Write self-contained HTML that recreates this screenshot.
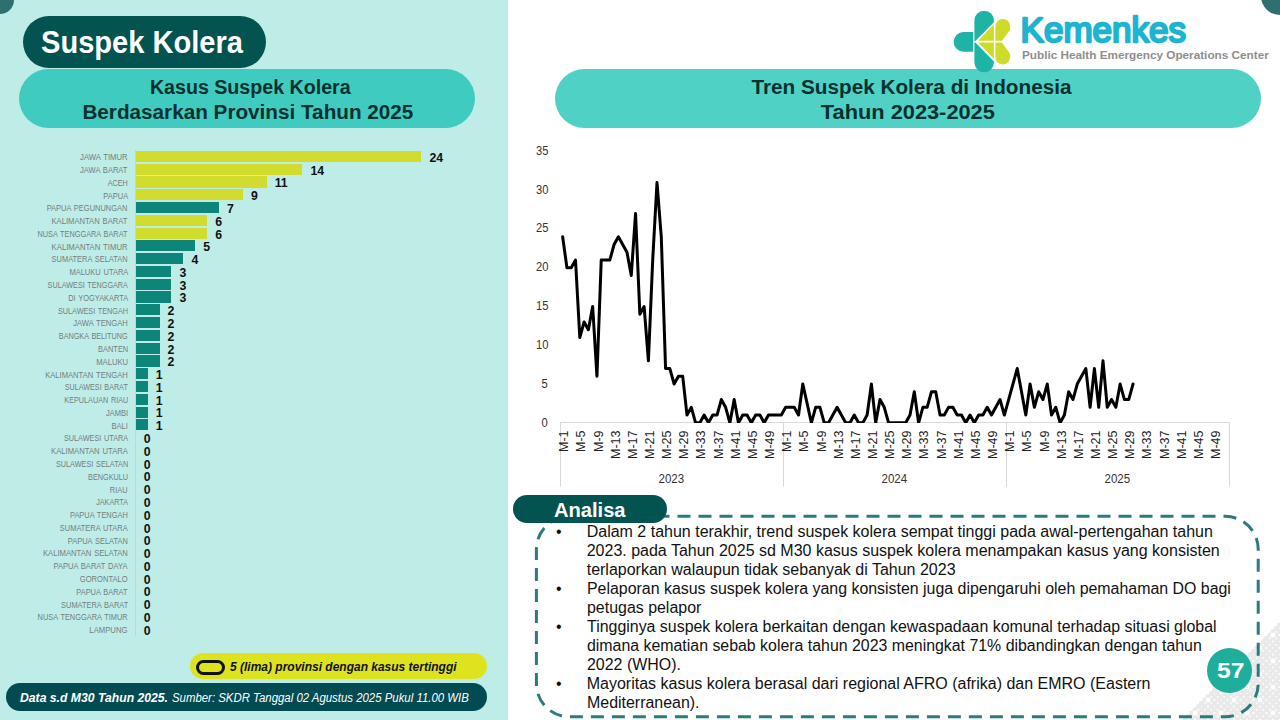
<!DOCTYPE html>
<html lang="id"><head><meta charset="utf-8"><title>Suspek Kolera</title>
<style>
html,body{margin:0;padding:0;}
body{width:1280px;height:720px;position:relative;overflow:hidden;background:#fff;font-family:"Liberation Sans",sans-serif;}
.t{position:absolute;white-space:nowrap;line-height:1;}
.a{position:absolute;}
.pill{position:absolute;border-radius:999px;}
.bar{position:absolute;height:11.2px;}
.y{background:#D2DC2E;} .g{background:#0E857A;}
</style></head><body>
<div class="a" style="left:0;top:0;width:508px;height:720px;background:#BEEDE8;"></div>
<div class="a" style="left:-14px;top:-14px;width:28px;height:28px;border-radius:50%;background:#2F6F70;"></div>
<div class="a" style="left:1261px;top:-23px;width:38px;height:38px;border-radius:50%;background:#2F6F70;"></div>
<div class="pill" style="left:23px;top:16px;width:242.8px;height:51.6px;background:#035350;"></div>
<div class="t" style="left:41.20px;top:27.36px;font-size:31px;color:#fff;font-weight:700;transform:scaleX(0.9379);transform-origin:0 0;">Suspek Kolera</div>
<div class="pill" style="left:19px;top:69px;width:456px;height:59px;background:#3FCBBF;"></div>
<div class="t" style="left:147.73px;top:76.67px;font-size:20px;color:#07302F;font-weight:700;transform:scaleX(0.9813);transform-origin:50% 0;">Kasus Suspek Kolera</div>
<div class="t" style="left:87.92px;top:101.67px;font-size:20px;color:#07302F;font-weight:700;transform:scaleX(1.0351);transform-origin:50% 0;">Berdasarkan Provinsi Tahun 2025</div>
<div class="pill" style="left:555px;top:69px;width:706px;height:59px;background:#4FD1C5;"></div>
<div class="t" style="left:756.51px;top:76.67px;font-size:20px;color:#07302F;font-weight:700;transform:scaleX(1.0357);transform-origin:50% 0;">Tren Suspek Kolera di Indonesia</div>
<div class="t" style="left:828.15px;top:101.67px;font-size:20px;color:#07302F;font-weight:700;transform:scaleX(1.0895);transform-origin:50% 0;">Tahun 2023-2025</div>
<div class="a" style="left:135px;top:150px;width:1px;height:486px;background:#B4DBD7;"></div>
<div class="bar y" style="left:135.8px;top:150.80px;width:285.6px;"></div>
<div class="t" style="left:77.39px;top:154.16px;font-size:8.2px;color:#737D7C;transform:scaleX(0.9386);transform-origin:100% 0;word-spacing:0.8px;">JAWA TIMUR</div>
<div class="t" style="left:429.40px;top:151.79px;font-size:12.3px;color:#111;font-weight:700;">24</div>
<div class="bar y" style="left:135.8px;top:163.58px;width:166.6px;"></div>
<div class="t" style="left:76.47px;top:166.94px;font-size:8.2px;color:#737D7C;transform:scaleX(0.9219);transform-origin:100% 0;word-spacing:0.8px;">JAWA BARAT</div>
<div class="t" style="left:310.40px;top:164.57px;font-size:12.3px;color:#111;font-weight:700;">14</div>
<div class="bar y" style="left:135.8px;top:176.37px;width:130.9px;"></div>
<div class="t" style="left:105.22px;top:179.73px;font-size:8.2px;color:#737D7C;transform:scaleX(0.8823);transform-origin:100% 0;word-spacing:0.8px;">ACEH</div>
<div class="t" style="left:274.70px;top:177.36px;font-size:12.3px;color:#111;font-weight:700;">11</div>
<div class="bar y" style="left:135.8px;top:189.15px;width:107.1px;"></div>
<div class="t" style="left:100.81px;top:192.51px;font-size:8.2px;color:#737D7C;transform:scaleX(0.9158);transform-origin:100% 0;word-spacing:0.8px;">PAPUA</div>
<div class="t" style="left:250.90px;top:190.14px;font-size:12.3px;color:#111;font-weight:700;">9</div>
<div class="bar g" style="left:135.8px;top:201.94px;width:83.3px;"></div>
<div class="t" style="left:39.41px;top:205.30px;font-size:8.2px;color:#737D7C;transform:scaleX(0.9132);transform-origin:100% 0;word-spacing:0.8px;">PAPUA PEGUNUNGAN</div>
<div class="t" style="left:227.10px;top:202.93px;font-size:12.3px;color:#111;font-weight:700;">7</div>
<div class="bar y" style="left:135.8px;top:214.72px;width:71.4px;"></div>
<div class="t" style="left:46.40px;top:218.08px;font-size:8.2px;color:#737D7C;transform:scaleX(0.9326);transform-origin:100% 0;word-spacing:0.8px;">KALIMANTAN BARAT</div>
<div class="t" style="left:215.20px;top:215.71px;font-size:12.3px;color:#111;font-weight:700;">6</div>
<div class="bar y" style="left:135.8px;top:227.51px;width:71.4px;"></div>
<div class="t" style="left:27.37px;top:230.87px;font-size:8.2px;color:#737D7C;transform:scaleX(0.8953);transform-origin:100% 0;word-spacing:0.8px;">NUSA TENGGARA BARAT</div>
<div class="t" style="left:215.20px;top:228.50px;font-size:12.3px;color:#111;font-weight:700;">6</div>
<div class="bar g" style="left:135.8px;top:240.29px;width:59.5px;"></div>
<div class="t" style="left:47.32px;top:243.65px;font-size:8.2px;color:#737D7C;transform:scaleX(0.9432);transform-origin:100% 0;word-spacing:0.8px;">KALIMANTAN TIMUR</div>
<div class="t" style="left:203.30px;top:241.28px;font-size:12.3px;color:#111;font-weight:700;">5</div>
<div class="bar g" style="left:135.8px;top:253.08px;width:47.6px;"></div>
<div class="t" style="left:44.27px;top:256.44px;font-size:8.2px;color:#737D7C;transform:scaleX(0.9089);transform-origin:100% 0;word-spacing:0.8px;">SUMATERA SELATAN</div>
<div class="t" style="left:191.40px;top:254.07px;font-size:12.3px;color:#111;font-weight:700;">4</div>
<div class="bar g" style="left:135.8px;top:265.86px;width:35.7px;"></div>
<div class="t" style="left:63.57px;top:269.22px;font-size:8.2px;color:#737D7C;transform:scaleX(0.9157);transform-origin:100% 0;word-spacing:0.8px;">MALUKU UTARA</div>
<div class="t" style="left:179.50px;top:266.85px;font-size:12.3px;color:#111;font-weight:700;">3</div>
<div class="bar g" style="left:135.8px;top:278.65px;width:35.7px;"></div>
<div class="t" style="left:36.98px;top:282.01px;font-size:8.2px;color:#737D7C;transform:scaleX(0.8833);transform-origin:100% 0;word-spacing:0.8px;">SULAWESI TENGGARA</div>
<div class="t" style="left:179.50px;top:279.64px;font-size:12.3px;color:#111;font-weight:700;">3</div>
<div class="bar g" style="left:135.8px;top:291.44px;width:35.7px;"></div>
<div class="t" style="left:61.73px;top:294.79px;font-size:8.2px;color:#737D7C;transform:scaleX(0.9069);transform-origin:100% 0;word-spacing:0.8px;">DI YOGYAKARTA</div>
<div class="t" style="left:179.50px;top:292.42px;font-size:12.3px;color:#111;font-weight:700;">3</div>
<div class="bar g" style="left:135.8px;top:304.22px;width:23.8px;"></div>
<div class="t" style="left:48.83px;top:307.58px;font-size:8.2px;color:#737D7C;transform:scaleX(0.8867);transform-origin:100% 0;word-spacing:0.8px;">SULAWESI TENGAH</div>
<div class="t" style="left:167.60px;top:305.21px;font-size:12.3px;color:#111;font-weight:700;">2</div>
<div class="bar g" style="left:135.8px;top:317.00px;width:23.8px;"></div>
<div class="t" style="left:69.18px;top:320.36px;font-size:8.2px;color:#737D7C;transform:scaleX(0.9283);transform-origin:100% 0;word-spacing:0.8px;">JAWA TENGAH</div>
<div class="t" style="left:167.60px;top:317.99px;font-size:12.3px;color:#111;font-weight:700;">2</div>
<div class="bar g" style="left:135.8px;top:329.79px;width:23.8px;"></div>
<div class="t" style="left:50.19px;top:333.15px;font-size:8.2px;color:#737D7C;transform:scaleX(0.8868);transform-origin:100% 0;word-spacing:0.8px;">BANGKA BELITUNG</div>
<div class="t" style="left:167.60px;top:330.78px;font-size:12.3px;color:#111;font-weight:700;">2</div>
<div class="bar g" style="left:135.8px;top:342.57px;width:23.8px;"></div>
<div class="t" style="left:94.74px;top:345.93px;font-size:8.2px;color:#737D7C;transform:scaleX(0.9080);transform-origin:100% 0;word-spacing:0.8px;">BANTEN</div>
<div class="t" style="left:167.60px;top:343.56px;font-size:12.3px;color:#111;font-weight:700;">2</div>
<div class="bar g" style="left:135.8px;top:355.36px;width:23.8px;"></div>
<div class="t" style="left:93.83px;top:358.72px;font-size:8.2px;color:#737D7C;transform:scaleX(0.9364);transform-origin:100% 0;word-spacing:0.8px;">MALUKU</div>
<div class="t" style="left:167.60px;top:356.35px;font-size:12.3px;color:#111;font-weight:700;">2</div>
<div class="bar g" style="left:135.8px;top:368.14px;width:11.9px;"></div>
<div class="t" style="left:39.11px;top:371.50px;font-size:8.2px;color:#737D7C;transform:scaleX(0.9304);transform-origin:100% 0;word-spacing:0.8px;">KALIMANTAN TENGAH</div>
<div class="t" style="left:155.70px;top:369.13px;font-size:12.3px;color:#111;font-weight:700;">1</div>
<div class="bar g" style="left:135.8px;top:380.93px;width:11.9px;"></div>
<div class="t" style="left:56.12px;top:384.29px;font-size:8.2px;color:#737D7C;transform:scaleX(0.8778);transform-origin:100% 0;word-spacing:0.8px;">SULAWESI BARAT</div>
<div class="t" style="left:155.70px;top:381.92px;font-size:12.3px;color:#111;font-weight:700;">1</div>
<div class="bar g" style="left:135.8px;top:393.71px;width:11.9px;"></div>
<div class="t" style="left:55.66px;top:397.07px;font-size:8.2px;color:#737D7C;transform:scaleX(0.8847);transform-origin:100% 0;word-spacing:0.8px;">KEPULAUAN RIAU</div>
<div class="t" style="left:155.70px;top:394.70px;font-size:12.3px;color:#111;font-weight:700;">1</div>
<div class="bar g" style="left:135.8px;top:406.50px;width:11.9px;"></div>
<div class="t" style="left:103.85px;top:409.86px;font-size:8.2px;color:#737D7C;transform:scaleX(0.9193);transform-origin:100% 0;word-spacing:0.8px;">JAMBI</div>
<div class="t" style="left:155.70px;top:407.49px;font-size:12.3px;color:#111;font-weight:700;">1</div>
<div class="bar g" style="left:135.8px;top:419.29px;width:11.9px;"></div>
<div class="t" style="left:110.22px;top:422.64px;font-size:8.2px;color:#737D7C;transform:scaleX(0.9225);transform-origin:100% 0;word-spacing:0.8px;">BALI</div>
<div class="t" style="left:155.70px;top:420.27px;font-size:12.3px;color:#111;font-weight:700;">1</div>
<div class="t" style="left:55.67px;top:435.43px;font-size:8.2px;color:#737D7C;transform:scaleX(0.8903);transform-origin:100% 0;word-spacing:0.8px;">SULAWESI UTARA</div>
<div class="t" style="left:143.80px;top:433.06px;font-size:12.3px;color:#111;font-weight:700;">0</div>
<div class="t" style="left:45.95px;top:448.21px;font-size:8.2px;color:#737D7C;transform:scaleX(0.9384);transform-origin:100% 0;word-spacing:0.8px;">KALIMANTAN UTARA</div>
<div class="t" style="left:143.80px;top:445.84px;font-size:12.3px;color:#111;font-weight:700;">0</div>
<div class="t" style="left:46.70px;top:461.00px;font-size:8.2px;color:#737D7C;transform:scaleX(0.8905);transform-origin:100% 0;word-spacing:0.8px;">SULAWESI SELATAN</div>
<div class="t" style="left:143.80px;top:458.63px;font-size:12.3px;color:#111;font-weight:700;">0</div>
<div class="t" style="left:82.89px;top:473.78px;font-size:8.2px;color:#737D7C;transform:scaleX(0.8867);transform-origin:100% 0;word-spacing:0.8px;">BENGKULU</div>
<div class="t" style="left:143.80px;top:471.41px;font-size:12.3px;color:#111;font-weight:700;">0</div>
<div class="t" style="left:108.41px;top:486.57px;font-size:8.2px;color:#737D7C;transform:scaleX(0.9086);transform-origin:100% 0;word-spacing:0.8px;">RIAU</div>
<div class="t" style="left:143.80px;top:484.20px;font-size:12.3px;color:#111;font-weight:700;">0</div>
<div class="t" style="left:91.85px;top:499.35px;font-size:8.2px;color:#737D7C;transform:scaleX(0.8852);transform-origin:100% 0;word-spacing:0.8px;">JAKARTA</div>
<div class="t" style="left:143.80px;top:496.98px;font-size:12.3px;color:#111;font-weight:700;">0</div>
<div class="t" style="left:64.16px;top:512.14px;font-size:8.2px;color:#737D7C;transform:scaleX(0.9054);transform-origin:100% 0;word-spacing:0.8px;">PAPUA TENGAH</div>
<div class="t" style="left:143.80px;top:509.77px;font-size:12.3px;color:#111;font-weight:700;">0</div>
<div class="t" style="left:53.24px;top:524.92px;font-size:8.2px;color:#737D7C;transform:scaleX(0.9082);transform-origin:100% 0;word-spacing:0.8px;">SUMATERA UTARA</div>
<div class="t" style="left:143.80px;top:522.55px;font-size:12.3px;color:#111;font-weight:700;">0</div>
<div class="t" style="left:62.03px;top:537.71px;font-size:8.2px;color:#737D7C;transform:scaleX(0.9110);transform-origin:100% 0;word-spacing:0.8px;">PAPUA SELATAN</div>
<div class="t" style="left:143.80px;top:535.34px;font-size:12.3px;color:#111;font-weight:700;">0</div>
<div class="t" style="left:36.98px;top:550.49px;font-size:8.2px;color:#737D7C;transform:scaleX(0.9339);transform-origin:100% 0;word-spacing:0.8px;">KALIMANTAN SELATAN</div>
<div class="t" style="left:143.80px;top:548.12px;font-size:12.3px;color:#111;font-weight:700;">0</div>
<div class="t" style="left:47.41px;top:563.28px;font-size:8.2px;color:#737D7C;transform:scaleX(0.9195);transform-origin:100% 0;word-spacing:0.8px;">PAPUA BARAT DAYA</div>
<div class="t" style="left:143.80px;top:560.91px;font-size:12.3px;color:#111;font-weight:700;">0</div>
<div class="t" style="left:76.21px;top:576.06px;font-size:8.2px;color:#737D7C;transform:scaleX(0.9269);transform-origin:100% 0;word-spacing:0.8px;">GORONTALO</div>
<div class="t" style="left:143.80px;top:573.69px;font-size:12.3px;color:#111;font-weight:700;">0</div>
<div class="t" style="left:71.45px;top:588.85px;font-size:8.2px;color:#737D7C;transform:scaleX(0.9054);transform-origin:100% 0;word-spacing:0.8px;">PAPUA BARAT</div>
<div class="t" style="left:143.80px;top:586.48px;font-size:12.3px;color:#111;font-weight:700;">0</div>
<div class="t" style="left:53.69px;top:601.63px;font-size:8.2px;color:#737D7C;transform:scaleX(0.9043);transform-origin:100% 0;word-spacing:0.8px;">SUMATERA BARAT</div>
<div class="t" style="left:143.80px;top:599.26px;font-size:12.3px;color:#111;font-weight:700;">0</div>
<div class="t" style="left:28.28px;top:614.42px;font-size:8.2px;color:#737D7C;transform:scaleX(0.9036);transform-origin:100% 0;word-spacing:0.8px;">NUSA TENGGARA TIMUR</div>
<div class="t" style="left:143.80px;top:612.05px;font-size:12.3px;color:#111;font-weight:700;">0</div>
<div class="t" style="left:87.45px;top:627.20px;font-size:8.2px;color:#737D7C;transform:scaleX(0.9420);transform-origin:100% 0;word-spacing:0.8px;">LAMPUNG</div>
<div class="t" style="left:143.80px;top:624.83px;font-size:12.3px;color:#111;font-weight:700;">0</div>
<div class="pill" style="left:189.5px;top:653px;width:297px;height:26px;background:#DDE31F;"></div>
<div class="a" style="left:195.5px;top:659.5px;width:23px;height:9px;border:3px solid #111;border-radius:8px;"></div>
<div class="t" style="left:229.70px;top:661.02px;font-size:12.5px;color:#111;font-weight:700;font-style:italic;transform:scaleX(0.9595);transform-origin:0 0;">5 (lima) provinsi dengan kasus tertinggi</div>
<div class="pill" style="left:6px;top:683px;width:480.5px;height:27.5px;background:#034B52;"></div>
<div class="t" style="left:20.30px;top:691.62px;font-size:12.5px;color:#fff;font-weight:700;font-style:italic;transform:scaleX(0.9758);transform-origin:0 0;">Data s.d M30 Tahun 2025.</div>
<div class="t" style="left:172.00px;top:691.62px;font-size:12.5px;color:#fff;font-style:italic;transform:scaleX(0.9120);transform-origin:0 0;">Sumber: SKDR Tanggal 02 Agustus 2025 Pukul 11.00 WIB</div>
<svg class="a" style="left:945px;top:0" width="80" height="80" viewBox="945 0 80 80">
<path d="M973.3 32 H963.5 a9.85 9.85 0 0 0 0 19.7 H973.3 Z" fill="#1DB4A6"/>
<path d="M974.4 41 V20.5 a9.75 9.75 0 0 1 19.5 0 V22.2 L975.4 41 Z" fill="#1DB4A6"/>
<path d="M974.4 42.4 V62.5 a9.75 9.75 0 0 0 19.5 0 V61.6 L975.4 42.4 Z" fill="#1DB4A6"/>
<path d="M978.3 40.7 L993.9 24.6 V40.7 Z" fill="#CDDB2A"/>
<path d="M978.3 42.6 L993.9 58.7 V42.6 Z" fill="#CDDB2A"/>
<path d="M995.4 40.7 V26.3 a7.4 7.4 0 0 1 14.8 0 V28.6 Q1010.2 29.6 1009.6 30.4 L1001.9 40.7 Z" fill="#CDDB2A"/>
<path d="M995.4 42.6 V57 a7.4 7.4 0 0 0 14.8 0 V54.7 Q1010.2 53.7 1009.6 52.9 L1001.9 42.6 Z" fill="#CDDB2A"/>
</svg>
<svg class="a" style="left:1010px;top:0;overflow:visible" width="200" height="60" viewBox="1010 0 200 60"><text x="1020.6" y="41.9" font-family="Liberation Sans, sans-serif" font-size="35.5" fill="#1CB4D0" stroke="#1CB4D0" stroke-width="2.4" stroke-linejoin="round" stroke-linecap="round" textLength="165.5" lengthAdjust="spacingAndGlyphs">Kemenkes</text></svg>
<div class="t" style="left:1021.60px;top:49.51px;font-size:11.8px;color:#8E8E8E;font-weight:700;transform:scaleX(0.9957);transform-origin:0 0;">Public Health Emergency Operations Center</div>
<svg class="a" style="left:520px;top:130px" width="740" height="370" viewBox="520 130 740 370">
<defs><clipPath id="pc"><rect x="520" y="130" width="740" height="292.9"/></clipPath></defs>
<path d="M560.0 422.5 H1230.0" stroke="#D9D9D9" stroke-width="1" fill="none"/>
<path d="M560.5 422 V486.5" stroke="#D9D9D9" stroke-width="1" fill="none"/>
<path d="M783.5 422 V486.5" stroke="#D9D9D9" stroke-width="1" fill="none"/>
<path d="M1006.5 422 V486.5" stroke="#D9D9D9" stroke-width="1" fill="none"/>
<path d="M1229.5 422 V486.5" stroke="#D9D9D9" stroke-width="1" fill="none"/>
<polyline points="562.64,236.75 566.93,267.76 571.22,267.76 575.51,260.01 579.80,337.53 584.09,322.02 588.38,329.78 592.66,306.52 596.95,376.29 601.24,260.01 605.53,260.01 609.82,260.01 614.11,244.50 618.39,236.75 622.68,244.50 626.97,252.26 631.26,275.51 635.55,213.50 639.84,314.27 644.12,306.52 648.41,360.78 652.70,260.01 656.99,182.49 661.28,236.75 665.57,368.54 669.86,368.54 674.14,384.04 678.43,376.29 682.72,376.29 687.01,415.05 691.30,407.30 695.59,422.80 699.88,422.80 704.16,415.05 708.45,422.80 712.74,415.05 717.03,415.05 721.32,399.54 725.61,407.30 729.89,422.80 734.18,399.54 738.47,422.80 742.76,415.05 747.05,415.05 751.34,422.80 755.62,415.05 759.91,415.05 764.20,422.80 768.49,415.05 772.78,415.05 777.07,415.05 781.36,415.05 785.64,407.30 789.93,407.30 794.22,407.30 798.51,415.05 802.80,384.04 807.09,403.42 811.38,422.80 815.66,407.30 819.95,407.30 824.24,422.80 828.53,422.80 832.82,415.05 837.11,407.30 841.39,415.05 845.68,422.80 849.97,422.80 854.26,415.05 858.55,422.80 862.84,422.80 867.12,415.05 871.41,384.04 875.70,422.80 879.99,399.54 884.28,407.30 888.57,422.80 892.86,422.80 897.14,422.80 901.43,422.80 905.72,422.80 910.01,415.05 914.30,391.79 918.59,422.80 922.88,407.30 927.16,407.30 931.45,391.79 935.74,391.79 940.03,415.05 944.32,415.05 948.61,407.30 952.89,407.30 957.18,415.05 961.47,415.05 965.76,422.80 970.05,415.05 974.34,422.80 978.62,415.05 982.91,415.05 987.20,407.30 991.49,415.05 995.78,407.30 1000.07,399.54 1004.36,415.05 1008.64,399.54 1012.93,384.04 1017.22,368.54 1021.51,391.79 1025.80,415.05 1030.09,384.04 1034.38,407.30 1038.66,391.79 1042.95,399.54 1047.24,384.04 1051.53,415.05 1055.82,407.30 1060.11,422.80 1064.39,415.05 1068.68,391.79 1072.97,399.54 1077.26,384.04 1081.55,376.29 1085.84,368.54 1090.12,407.30 1094.41,368.54 1098.70,407.30 1102.99,360.78 1107.28,407.30 1111.57,399.54 1115.86,407.30 1120.14,384.04 1124.43,399.54 1128.72,399.54 1133.01,384.04" fill="none" stroke="#000" stroke-width="3" stroke-linejoin="round" stroke-linecap="round" clip-path="url(#pc)"/>
</svg>
<div class="t" style="left:534.75px;top:144.74px;font-size:12px;color:#333;transform:scaleX(0.9300);transform-origin:100% 0;">35</div>
<div class="t" style="left:534.75px;top:183.61px;font-size:12px;color:#333;transform:scaleX(0.9300);transform-origin:100% 0;">30</div>
<div class="t" style="left:534.75px;top:222.48px;font-size:12px;color:#333;transform:scaleX(0.9300);transform-origin:100% 0;">25</div>
<div class="t" style="left:534.75px;top:261.35px;font-size:12px;color:#333;transform:scaleX(0.9300);transform-origin:100% 0;">20</div>
<div class="t" style="left:534.75px;top:300.22px;font-size:12px;color:#333;transform:scaleX(0.9300);transform-origin:100% 0;">15</div>
<div class="t" style="left:534.75px;top:339.09px;font-size:12px;color:#333;transform:scaleX(0.9300);transform-origin:100% 0;">10</div>
<div class="t" style="left:541.43px;top:377.96px;font-size:12px;color:#333;transform:scaleX(0.9300);transform-origin:100% 0;">5</div>
<div class="t" style="left:541.43px;top:416.83px;font-size:12px;color:#333;transform:scaleX(0.9300);transform-origin:100% 0;">0</div>
<div class="t" style="left:570.24px;top:451.93px;font-size:12.5px;color:#222;transform-origin:0 0;transform:rotate(-90deg) translateY(-100%);">M-1</div>
<div class="t" style="left:587.40px;top:451.93px;font-size:12.5px;color:#222;transform-origin:0 0;transform:rotate(-90deg) translateY(-100%);">M-5</div>
<div class="t" style="left:604.55px;top:451.93px;font-size:12.5px;color:#222;transform-origin:0 0;transform:rotate(-90deg) translateY(-100%);">M-9</div>
<div class="t" style="left:621.71px;top:458.88px;font-size:12.5px;color:#222;transform-origin:0 0;transform:rotate(-90deg) translateY(-100%);">M-13</div>
<div class="t" style="left:638.86px;top:458.88px;font-size:12.5px;color:#222;transform-origin:0 0;transform:rotate(-90deg) translateY(-100%);">M-17</div>
<div class="t" style="left:656.01px;top:458.88px;font-size:12.5px;color:#222;transform-origin:0 0;transform:rotate(-90deg) translateY(-100%);">M-21</div>
<div class="t" style="left:673.17px;top:458.88px;font-size:12.5px;color:#222;transform-origin:0 0;transform:rotate(-90deg) translateY(-100%);">M-25</div>
<div class="t" style="left:690.32px;top:458.88px;font-size:12.5px;color:#222;transform-origin:0 0;transform:rotate(-90deg) translateY(-100%);">M-29</div>
<div class="t" style="left:707.48px;top:458.88px;font-size:12.5px;color:#222;transform-origin:0 0;transform:rotate(-90deg) translateY(-100%);">M-33</div>
<div class="t" style="left:724.63px;top:458.88px;font-size:12.5px;color:#222;transform-origin:0 0;transform:rotate(-90deg) translateY(-100%);">M-37</div>
<div class="t" style="left:741.78px;top:458.88px;font-size:12.5px;color:#222;transform-origin:0 0;transform:rotate(-90deg) translateY(-100%);">M-41</div>
<div class="t" style="left:758.94px;top:458.88px;font-size:12.5px;color:#222;transform-origin:0 0;transform:rotate(-90deg) translateY(-100%);">M-45</div>
<div class="t" style="left:776.09px;top:458.88px;font-size:12.5px;color:#222;transform-origin:0 0;transform:rotate(-90deg) translateY(-100%);">M-49</div>
<div class="t" style="left:793.24px;top:451.93px;font-size:12.5px;color:#222;transform-origin:0 0;transform:rotate(-90deg) translateY(-100%);">M-1</div>
<div class="t" style="left:810.40px;top:451.93px;font-size:12.5px;color:#222;transform-origin:0 0;transform:rotate(-90deg) translateY(-100%);">M-5</div>
<div class="t" style="left:827.55px;top:451.93px;font-size:12.5px;color:#222;transform-origin:0 0;transform:rotate(-90deg) translateY(-100%);">M-9</div>
<div class="t" style="left:844.71px;top:458.88px;font-size:12.5px;color:#222;transform-origin:0 0;transform:rotate(-90deg) translateY(-100%);">M-13</div>
<div class="t" style="left:861.86px;top:458.88px;font-size:12.5px;color:#222;transform-origin:0 0;transform:rotate(-90deg) translateY(-100%);">M-17</div>
<div class="t" style="left:879.01px;top:458.88px;font-size:12.5px;color:#222;transform-origin:0 0;transform:rotate(-90deg) translateY(-100%);">M-21</div>
<div class="t" style="left:896.17px;top:458.88px;font-size:12.5px;color:#222;transform-origin:0 0;transform:rotate(-90deg) translateY(-100%);">M-25</div>
<div class="t" style="left:913.32px;top:458.88px;font-size:12.5px;color:#222;transform-origin:0 0;transform:rotate(-90deg) translateY(-100%);">M-29</div>
<div class="t" style="left:930.48px;top:458.88px;font-size:12.5px;color:#222;transform-origin:0 0;transform:rotate(-90deg) translateY(-100%);">M-33</div>
<div class="t" style="left:947.63px;top:458.88px;font-size:12.5px;color:#222;transform-origin:0 0;transform:rotate(-90deg) translateY(-100%);">M-37</div>
<div class="t" style="left:964.78px;top:458.88px;font-size:12.5px;color:#222;transform-origin:0 0;transform:rotate(-90deg) translateY(-100%);">M-41</div>
<div class="t" style="left:981.94px;top:458.88px;font-size:12.5px;color:#222;transform-origin:0 0;transform:rotate(-90deg) translateY(-100%);">M-45</div>
<div class="t" style="left:999.09px;top:458.88px;font-size:12.5px;color:#222;transform-origin:0 0;transform:rotate(-90deg) translateY(-100%);">M-49</div>
<div class="t" style="left:1016.24px;top:451.93px;font-size:12.5px;color:#222;transform-origin:0 0;transform:rotate(-90deg) translateY(-100%);">M-1</div>
<div class="t" style="left:1033.40px;top:451.93px;font-size:12.5px;color:#222;transform-origin:0 0;transform:rotate(-90deg) translateY(-100%);">M-5</div>
<div class="t" style="left:1050.55px;top:451.93px;font-size:12.5px;color:#222;transform-origin:0 0;transform:rotate(-90deg) translateY(-100%);">M-9</div>
<div class="t" style="left:1067.71px;top:458.88px;font-size:12.5px;color:#222;transform-origin:0 0;transform:rotate(-90deg) translateY(-100%);">M-13</div>
<div class="t" style="left:1084.86px;top:458.88px;font-size:12.5px;color:#222;transform-origin:0 0;transform:rotate(-90deg) translateY(-100%);">M-17</div>
<div class="t" style="left:1102.01px;top:458.88px;font-size:12.5px;color:#222;transform-origin:0 0;transform:rotate(-90deg) translateY(-100%);">M-21</div>
<div class="t" style="left:1119.17px;top:458.88px;font-size:12.5px;color:#222;transform-origin:0 0;transform:rotate(-90deg) translateY(-100%);">M-25</div>
<div class="t" style="left:1136.32px;top:458.88px;font-size:12.5px;color:#222;transform-origin:0 0;transform:rotate(-90deg) translateY(-100%);">M-29</div>
<div class="t" style="left:1153.47px;top:458.88px;font-size:12.5px;color:#222;transform-origin:0 0;transform:rotate(-90deg) translateY(-100%);">M-33</div>
<div class="t" style="left:1170.63px;top:458.88px;font-size:12.5px;color:#222;transform-origin:0 0;transform:rotate(-90deg) translateY(-100%);">M-37</div>
<div class="t" style="left:1187.78px;top:458.88px;font-size:12.5px;color:#222;transform-origin:0 0;transform:rotate(-90deg) translateY(-100%);">M-41</div>
<div class="t" style="left:1204.94px;top:458.88px;font-size:12.5px;color:#222;transform-origin:0 0;transform:rotate(-90deg) translateY(-100%);">M-45</div>
<div class="t" style="left:1222.09px;top:458.88px;font-size:12.5px;color:#222;transform-origin:0 0;transform:rotate(-90deg) translateY(-100%);">M-49</div>
<div class="t" style="left:658.15px;top:473.14px;font-size:12px;color:#333;transform:scaleX(0.9600);transform-origin:50% 0;">2023</div>
<div class="t" style="left:881.15px;top:473.14px;font-size:12px;color:#333;transform:scaleX(0.9600);transform-origin:50% 0;">2024</div>
<div class="t" style="left:1104.15px;top:473.14px;font-size:12px;color:#333;transform:scaleX(0.9600);transform-origin:50% 0;">2025</div>
<svg class="a" style="left:1160px;top:600px" width="120" height="120" viewBox="1160 600 120 120">
<circle cx="1295.9" cy="739.0" r="2.55" fill="#E9E9E9"/>
<circle cx="1302.1" cy="739.0" r="2.55" fill="#E9E9E9"/>
<circle cx="1299.0" cy="735.9" r="2.55" fill="#E9E9E9"/>
<circle cx="1299.0" cy="742.1" r="2.55" fill="#E9E9E9"/>
<circle cx="1295.9" cy="726.0" r="2.55" fill="#E9E9E9"/>
<circle cx="1302.1" cy="726.0" r="2.55" fill="#E9E9E9"/>
<circle cx="1299.0" cy="722.9" r="2.55" fill="#E9E9E9"/>
<circle cx="1299.0" cy="729.1" r="2.55" fill="#E9E9E9"/>
<circle cx="1295.9" cy="713.0" r="2.55" fill="#E9E9E9"/>
<circle cx="1302.1" cy="713.0" r="2.55" fill="#E9E9E9"/>
<circle cx="1299.0" cy="709.9" r="2.55" fill="#E9E9E9"/>
<circle cx="1299.0" cy="716.1" r="2.55" fill="#E9E9E9"/>
<circle cx="1295.9" cy="700.0" r="2.55" fill="#E9E9E9"/>
<circle cx="1302.1" cy="700.0" r="2.55" fill="#E9E9E9"/>
<circle cx="1299.0" cy="696.9" r="2.55" fill="#E9E9E9"/>
<circle cx="1299.0" cy="703.1" r="2.55" fill="#E9E9E9"/>
<circle cx="1295.9" cy="687.0" r="2.55" fill="#E9E9E9"/>
<circle cx="1302.1" cy="687.0" r="2.55" fill="#E9E9E9"/>
<circle cx="1299.0" cy="683.9" r="2.55" fill="#E9E9E9"/>
<circle cx="1299.0" cy="690.1" r="2.55" fill="#E9E9E9"/>
<circle cx="1295.9" cy="674.0" r="2.55" fill="#E9E9E9"/>
<circle cx="1302.1" cy="674.0" r="2.55" fill="#E9E9E9"/>
<circle cx="1299.0" cy="670.9" r="2.55" fill="#E9E9E9"/>
<circle cx="1299.0" cy="677.1" r="2.55" fill="#E9E9E9"/>
<circle cx="1295.9" cy="661.0" r="2.55" fill="#E9E9E9"/>
<circle cx="1302.1" cy="661.0" r="2.55" fill="#E9E9E9"/>
<circle cx="1299.0" cy="657.9" r="2.55" fill="#E9E9E9"/>
<circle cx="1299.0" cy="664.1" r="2.55" fill="#E9E9E9"/>
<circle cx="1295.9" cy="648.0" r="2.55" fill="#E9E9E9"/>
<circle cx="1302.1" cy="648.0" r="2.55" fill="#E9E9E9"/>
<circle cx="1299.0" cy="644.9" r="2.55" fill="#E9E9E9"/>
<circle cx="1299.0" cy="651.1" r="2.55" fill="#E9E9E9"/>
<circle cx="1295.9" cy="635.0" r="2.55" fill="#E9E9E9"/>
<circle cx="1302.1" cy="635.0" r="2.55" fill="#E9E9E9"/>
<circle cx="1299.0" cy="631.9" r="2.55" fill="#E9E9E9"/>
<circle cx="1299.0" cy="638.1" r="2.55" fill="#E9E9E9"/>
<circle cx="1295.9" cy="622.0" r="2.55" fill="#E9E9E9"/>
<circle cx="1302.1" cy="622.0" r="2.55" fill="#E9E9E9"/>
<circle cx="1299.0" cy="618.9" r="2.55" fill="#E9E9E9"/>
<circle cx="1299.0" cy="625.1" r="2.55" fill="#E9E9E9"/>
<circle cx="1295.9" cy="609.0" r="2.55" fill="#E9E9E9"/>
<circle cx="1302.1" cy="609.0" r="2.55" fill="#E9E9E9"/>
<circle cx="1299.0" cy="605.9" r="2.55" fill="#E9E9E9"/>
<circle cx="1299.0" cy="612.1" r="2.55" fill="#E9E9E9"/>
<circle cx="1289.4" cy="732.5" r="2.55" fill="#E9E9E9"/>
<circle cx="1295.6" cy="732.5" r="2.55" fill="#E9E9E9"/>
<circle cx="1292.5" cy="729.4" r="2.55" fill="#E9E9E9"/>
<circle cx="1292.5" cy="735.6" r="2.55" fill="#E9E9E9"/>
<circle cx="1289.4" cy="719.5" r="2.55" fill="#E9E9E9"/>
<circle cx="1295.6" cy="719.5" r="2.55" fill="#E9E9E9"/>
<circle cx="1292.5" cy="716.4" r="2.55" fill="#E9E9E9"/>
<circle cx="1292.5" cy="722.6" r="2.55" fill="#E9E9E9"/>
<circle cx="1289.4" cy="706.5" r="2.55" fill="#E9E9E9"/>
<circle cx="1295.6" cy="706.5" r="2.55" fill="#E9E9E9"/>
<circle cx="1292.5" cy="703.4" r="2.55" fill="#E9E9E9"/>
<circle cx="1292.5" cy="709.6" r="2.55" fill="#E9E9E9"/>
<circle cx="1289.4" cy="693.5" r="2.55" fill="#E9E9E9"/>
<circle cx="1295.6" cy="693.5" r="2.55" fill="#E9E9E9"/>
<circle cx="1292.5" cy="690.4" r="2.55" fill="#E9E9E9"/>
<circle cx="1292.5" cy="696.6" r="2.55" fill="#E9E9E9"/>
<circle cx="1289.4" cy="680.5" r="2.55" fill="#E9E9E9"/>
<circle cx="1295.6" cy="680.5" r="2.55" fill="#E9E9E9"/>
<circle cx="1292.5" cy="677.4" r="2.55" fill="#E9E9E9"/>
<circle cx="1292.5" cy="683.6" r="2.55" fill="#E9E9E9"/>
<circle cx="1289.4" cy="667.5" r="2.55" fill="#E9E9E9"/>
<circle cx="1295.6" cy="667.5" r="2.55" fill="#E9E9E9"/>
<circle cx="1292.5" cy="664.4" r="2.55" fill="#E9E9E9"/>
<circle cx="1292.5" cy="670.6" r="2.55" fill="#E9E9E9"/>
<circle cx="1289.4" cy="654.5" r="2.55" fill="#E9E9E9"/>
<circle cx="1295.6" cy="654.5" r="2.55" fill="#E9E9E9"/>
<circle cx="1292.5" cy="651.4" r="2.55" fill="#E9E9E9"/>
<circle cx="1292.5" cy="657.6" r="2.55" fill="#E9E9E9"/>
<circle cx="1289.4" cy="641.5" r="2.55" fill="#E9E9E9"/>
<circle cx="1295.6" cy="641.5" r="2.55" fill="#E9E9E9"/>
<circle cx="1292.5" cy="638.4" r="2.55" fill="#E9E9E9"/>
<circle cx="1292.5" cy="644.6" r="2.55" fill="#E9E9E9"/>
<circle cx="1289.4" cy="628.5" r="2.55" fill="#E9E9E9"/>
<circle cx="1295.6" cy="628.5" r="2.55" fill="#E9E9E9"/>
<circle cx="1292.5" cy="625.4" r="2.55" fill="#E9E9E9"/>
<circle cx="1292.5" cy="631.6" r="2.55" fill="#E9E9E9"/>
<circle cx="1289.4" cy="615.5" r="2.55" fill="#E9E9E9"/>
<circle cx="1295.6" cy="615.5" r="2.55" fill="#E9E9E9"/>
<circle cx="1292.5" cy="612.4" r="2.55" fill="#E9E9E9"/>
<circle cx="1292.5" cy="618.6" r="2.55" fill="#E9E9E9"/>
<circle cx="1282.9" cy="739.0" r="2.55" fill="#E9E9E9"/>
<circle cx="1289.1" cy="739.0" r="2.55" fill="#E9E9E9"/>
<circle cx="1286.0" cy="735.9" r="2.55" fill="#E9E9E9"/>
<circle cx="1286.0" cy="742.1" r="2.55" fill="#E9E9E9"/>
<circle cx="1282.9" cy="726.0" r="2.55" fill="#E9E9E9"/>
<circle cx="1289.1" cy="726.0" r="2.55" fill="#E9E9E9"/>
<circle cx="1286.0" cy="722.9" r="2.55" fill="#E9E9E9"/>
<circle cx="1286.0" cy="729.1" r="2.55" fill="#E9E9E9"/>
<circle cx="1282.9" cy="713.0" r="2.55" fill="#E9E9E9"/>
<circle cx="1289.1" cy="713.0" r="2.55" fill="#E9E9E9"/>
<circle cx="1286.0" cy="709.9" r="2.55" fill="#E9E9E9"/>
<circle cx="1286.0" cy="716.1" r="2.55" fill="#E9E9E9"/>
<circle cx="1282.9" cy="700.0" r="2.55" fill="#E9E9E9"/>
<circle cx="1289.1" cy="700.0" r="2.55" fill="#E9E9E9"/>
<circle cx="1286.0" cy="696.9" r="2.55" fill="#E9E9E9"/>
<circle cx="1286.0" cy="703.1" r="2.55" fill="#E9E9E9"/>
<circle cx="1282.9" cy="687.0" r="2.55" fill="#E9E9E9"/>
<circle cx="1289.1" cy="687.0" r="2.55" fill="#E9E9E9"/>
<circle cx="1286.0" cy="683.9" r="2.55" fill="#E9E9E9"/>
<circle cx="1286.0" cy="690.1" r="2.55" fill="#E9E9E9"/>
<circle cx="1282.9" cy="674.0" r="2.55" fill="#E9E9E9"/>
<circle cx="1289.1" cy="674.0" r="2.55" fill="#E9E9E9"/>
<circle cx="1286.0" cy="670.9" r="2.55" fill="#E9E9E9"/>
<circle cx="1286.0" cy="677.1" r="2.55" fill="#E9E9E9"/>
<circle cx="1282.9" cy="661.0" r="2.55" fill="#E9E9E9"/>
<circle cx="1289.1" cy="661.0" r="2.55" fill="#E9E9E9"/>
<circle cx="1286.0" cy="657.9" r="2.55" fill="#E9E9E9"/>
<circle cx="1286.0" cy="664.1" r="2.55" fill="#E9E9E9"/>
<circle cx="1282.9" cy="648.0" r="2.55" fill="#E9E9E9"/>
<circle cx="1289.1" cy="648.0" r="2.55" fill="#E9E9E9"/>
<circle cx="1286.0" cy="644.9" r="2.55" fill="#E9E9E9"/>
<circle cx="1286.0" cy="651.1" r="2.55" fill="#E9E9E9"/>
<circle cx="1282.9" cy="635.0" r="2.55" fill="#E9E9E9"/>
<circle cx="1289.1" cy="635.0" r="2.55" fill="#E9E9E9"/>
<circle cx="1286.0" cy="631.9" r="2.55" fill="#E9E9E9"/>
<circle cx="1286.0" cy="638.1" r="2.55" fill="#E9E9E9"/>
<circle cx="1282.9" cy="622.0" r="2.55" fill="#E9E9E9"/>
<circle cx="1289.1" cy="622.0" r="2.55" fill="#E9E9E9"/>
<circle cx="1286.0" cy="618.9" r="2.55" fill="#E9E9E9"/>
<circle cx="1286.0" cy="625.1" r="2.55" fill="#E9E9E9"/>
<circle cx="1276.4" cy="732.5" r="2.55" fill="#E9E9E9"/>
<circle cx="1282.6" cy="732.5" r="2.55" fill="#E9E9E9"/>
<circle cx="1279.5" cy="729.4" r="2.55" fill="#E9E9E9"/>
<circle cx="1279.5" cy="735.6" r="2.55" fill="#E9E9E9"/>
<circle cx="1276.4" cy="719.5" r="2.55" fill="#E9E9E9"/>
<circle cx="1282.6" cy="719.5" r="2.55" fill="#E9E9E9"/>
<circle cx="1279.5" cy="716.4" r="2.55" fill="#E9E9E9"/>
<circle cx="1279.5" cy="722.6" r="2.55" fill="#E9E9E9"/>
<circle cx="1276.4" cy="706.5" r="2.55" fill="#E9E9E9"/>
<circle cx="1282.6" cy="706.5" r="2.55" fill="#E9E9E9"/>
<circle cx="1279.5" cy="703.4" r="2.55" fill="#E9E9E9"/>
<circle cx="1279.5" cy="709.6" r="2.55" fill="#E9E9E9"/>
<circle cx="1276.4" cy="693.5" r="2.55" fill="#E9E9E9"/>
<circle cx="1282.6" cy="693.5" r="2.55" fill="#E9E9E9"/>
<circle cx="1279.5" cy="690.4" r="2.55" fill="#E9E9E9"/>
<circle cx="1279.5" cy="696.6" r="2.55" fill="#E9E9E9"/>
<circle cx="1276.4" cy="680.5" r="2.55" fill="#E9E9E9"/>
<circle cx="1282.6" cy="680.5" r="2.55" fill="#E9E9E9"/>
<circle cx="1279.5" cy="677.4" r="2.55" fill="#E9E9E9"/>
<circle cx="1279.5" cy="683.6" r="2.55" fill="#E9E9E9"/>
<circle cx="1276.4" cy="667.5" r="2.55" fill="#E9E9E9"/>
<circle cx="1282.6" cy="667.5" r="2.55" fill="#E9E9E9"/>
<circle cx="1279.5" cy="664.4" r="2.55" fill="#E9E9E9"/>
<circle cx="1279.5" cy="670.6" r="2.55" fill="#E9E9E9"/>
<circle cx="1276.4" cy="654.5" r="2.55" fill="#E9E9E9"/>
<circle cx="1282.6" cy="654.5" r="2.55" fill="#E9E9E9"/>
<circle cx="1279.5" cy="651.4" r="2.55" fill="#E9E9E9"/>
<circle cx="1279.5" cy="657.6" r="2.55" fill="#E9E9E9"/>
<circle cx="1276.4" cy="641.5" r="2.55" fill="#E9E9E9"/>
<circle cx="1282.6" cy="641.5" r="2.55" fill="#E9E9E9"/>
<circle cx="1279.5" cy="638.4" r="2.55" fill="#E9E9E9"/>
<circle cx="1279.5" cy="644.6" r="2.55" fill="#E9E9E9"/>
<circle cx="1276.4" cy="628.5" r="2.55" fill="#E9E9E9"/>
<circle cx="1282.6" cy="628.5" r="2.55" fill="#E9E9E9"/>
<circle cx="1279.5" cy="625.4" r="2.55" fill="#E9E9E9"/>
<circle cx="1279.5" cy="631.6" r="2.55" fill="#E9E9E9"/>
<circle cx="1269.9" cy="739.0" r="2.55" fill="#E9E9E9"/>
<circle cx="1276.1" cy="739.0" r="2.55" fill="#E9E9E9"/>
<circle cx="1273.0" cy="735.9" r="2.55" fill="#E9E9E9"/>
<circle cx="1273.0" cy="742.1" r="2.55" fill="#E9E9E9"/>
<circle cx="1269.9" cy="726.0" r="2.55" fill="#E9E9E9"/>
<circle cx="1276.1" cy="726.0" r="2.55" fill="#E9E9E9"/>
<circle cx="1273.0" cy="722.9" r="2.55" fill="#E9E9E9"/>
<circle cx="1273.0" cy="729.1" r="2.55" fill="#E9E9E9"/>
<circle cx="1269.9" cy="713.0" r="2.55" fill="#E9E9E9"/>
<circle cx="1276.1" cy="713.0" r="2.55" fill="#E9E9E9"/>
<circle cx="1273.0" cy="709.9" r="2.55" fill="#E9E9E9"/>
<circle cx="1273.0" cy="716.1" r="2.55" fill="#E9E9E9"/>
<circle cx="1269.9" cy="700.0" r="2.55" fill="#E9E9E9"/>
<circle cx="1276.1" cy="700.0" r="2.55" fill="#E9E9E9"/>
<circle cx="1273.0" cy="696.9" r="2.55" fill="#E9E9E9"/>
<circle cx="1273.0" cy="703.1" r="2.55" fill="#E9E9E9"/>
<circle cx="1269.9" cy="687.0" r="2.55" fill="#E9E9E9"/>
<circle cx="1276.1" cy="687.0" r="2.55" fill="#E9E9E9"/>
<circle cx="1273.0" cy="683.9" r="2.55" fill="#E9E9E9"/>
<circle cx="1273.0" cy="690.1" r="2.55" fill="#E9E9E9"/>
<circle cx="1269.9" cy="674.0" r="2.55" fill="#E9E9E9"/>
<circle cx="1276.1" cy="674.0" r="2.55" fill="#E9E9E9"/>
<circle cx="1273.0" cy="670.9" r="2.55" fill="#E9E9E9"/>
<circle cx="1273.0" cy="677.1" r="2.55" fill="#E9E9E9"/>
<circle cx="1269.9" cy="661.0" r="2.55" fill="#E9E9E9"/>
<circle cx="1276.1" cy="661.0" r="2.55" fill="#E9E9E9"/>
<circle cx="1273.0" cy="657.9" r="2.55" fill="#E9E9E9"/>
<circle cx="1273.0" cy="664.1" r="2.55" fill="#E9E9E9"/>
<circle cx="1269.9" cy="648.0" r="2.55" fill="#E9E9E9"/>
<circle cx="1276.1" cy="648.0" r="2.55" fill="#E9E9E9"/>
<circle cx="1273.0" cy="644.9" r="2.55" fill="#E9E9E9"/>
<circle cx="1273.0" cy="651.1" r="2.55" fill="#E9E9E9"/>
<circle cx="1269.9" cy="635.0" r="2.55" fill="#E9E9E9"/>
<circle cx="1276.1" cy="635.0" r="2.55" fill="#E9E9E9"/>
<circle cx="1273.0" cy="631.9" r="2.55" fill="#E9E9E9"/>
<circle cx="1273.0" cy="638.1" r="2.55" fill="#E9E9E9"/>
<circle cx="1263.4" cy="732.5" r="2.55" fill="#E9E9E9"/>
<circle cx="1269.6" cy="732.5" r="2.55" fill="#E9E9E9"/>
<circle cx="1266.5" cy="729.4" r="2.55" fill="#E9E9E9"/>
<circle cx="1266.5" cy="735.6" r="2.55" fill="#E9E9E9"/>
<circle cx="1263.4" cy="719.5" r="2.55" fill="#E9E9E9"/>
<circle cx="1269.6" cy="719.5" r="2.55" fill="#E9E9E9"/>
<circle cx="1266.5" cy="716.4" r="2.55" fill="#E9E9E9"/>
<circle cx="1266.5" cy="722.6" r="2.55" fill="#E9E9E9"/>
<circle cx="1263.4" cy="706.5" r="2.55" fill="#E9E9E9"/>
<circle cx="1269.6" cy="706.5" r="2.55" fill="#E9E9E9"/>
<circle cx="1266.5" cy="703.4" r="2.55" fill="#E9E9E9"/>
<circle cx="1266.5" cy="709.6" r="2.55" fill="#E9E9E9"/>
<circle cx="1263.4" cy="693.5" r="2.55" fill="#E9E9E9"/>
<circle cx="1269.6" cy="693.5" r="2.55" fill="#E9E9E9"/>
<circle cx="1266.5" cy="690.4" r="2.55" fill="#E9E9E9"/>
<circle cx="1266.5" cy="696.6" r="2.55" fill="#E9E9E9"/>
<circle cx="1263.4" cy="680.5" r="2.55" fill="#E9E9E9"/>
<circle cx="1269.6" cy="680.5" r="2.55" fill="#E9E9E9"/>
<circle cx="1266.5" cy="677.4" r="2.55" fill="#E9E9E9"/>
<circle cx="1266.5" cy="683.6" r="2.55" fill="#E9E9E9"/>
<circle cx="1263.4" cy="667.5" r="2.55" fill="#E9E9E9"/>
<circle cx="1269.6" cy="667.5" r="2.55" fill="#E9E9E9"/>
<circle cx="1266.5" cy="664.4" r="2.55" fill="#E9E9E9"/>
<circle cx="1266.5" cy="670.6" r="2.55" fill="#E9E9E9"/>
<circle cx="1263.4" cy="654.5" r="2.55" fill="#E9E9E9"/>
<circle cx="1269.6" cy="654.5" r="2.55" fill="#E9E9E9"/>
<circle cx="1266.5" cy="651.4" r="2.55" fill="#E9E9E9"/>
<circle cx="1266.5" cy="657.6" r="2.55" fill="#E9E9E9"/>
<circle cx="1263.4" cy="641.5" r="2.55" fill="#E9E9E9"/>
<circle cx="1269.6" cy="641.5" r="2.55" fill="#E9E9E9"/>
<circle cx="1266.5" cy="638.4" r="2.55" fill="#E9E9E9"/>
<circle cx="1266.5" cy="644.6" r="2.55" fill="#E9E9E9"/>
<circle cx="1256.9" cy="739.0" r="2.55" fill="#E9E9E9"/>
<circle cx="1263.1" cy="739.0" r="2.55" fill="#E9E9E9"/>
<circle cx="1260.0" cy="735.9" r="2.55" fill="#E9E9E9"/>
<circle cx="1260.0" cy="742.1" r="2.55" fill="#E9E9E9"/>
<circle cx="1256.9" cy="726.0" r="2.55" fill="#E9E9E9"/>
<circle cx="1263.1" cy="726.0" r="2.55" fill="#E9E9E9"/>
<circle cx="1260.0" cy="722.9" r="2.55" fill="#E9E9E9"/>
<circle cx="1260.0" cy="729.1" r="2.55" fill="#E9E9E9"/>
<circle cx="1256.9" cy="713.0" r="2.55" fill="#E9E9E9"/>
<circle cx="1263.1" cy="713.0" r="2.55" fill="#E9E9E9"/>
<circle cx="1260.0" cy="709.9" r="2.55" fill="#E9E9E9"/>
<circle cx="1260.0" cy="716.1" r="2.55" fill="#E9E9E9"/>
<circle cx="1256.9" cy="700.0" r="2.55" fill="#E9E9E9"/>
<circle cx="1263.1" cy="700.0" r="2.55" fill="#E9E9E9"/>
<circle cx="1260.0" cy="696.9" r="2.55" fill="#E9E9E9"/>
<circle cx="1260.0" cy="703.1" r="2.55" fill="#E9E9E9"/>
<circle cx="1256.9" cy="687.0" r="2.55" fill="#E9E9E9"/>
<circle cx="1263.1" cy="687.0" r="2.55" fill="#E9E9E9"/>
<circle cx="1260.0" cy="683.9" r="2.55" fill="#E9E9E9"/>
<circle cx="1260.0" cy="690.1" r="2.55" fill="#E9E9E9"/>
<circle cx="1256.9" cy="674.0" r="2.55" fill="#E9E9E9"/>
<circle cx="1263.1" cy="674.0" r="2.55" fill="#E9E9E9"/>
<circle cx="1260.0" cy="670.9" r="2.55" fill="#E9E9E9"/>
<circle cx="1260.0" cy="677.1" r="2.55" fill="#E9E9E9"/>
<circle cx="1256.9" cy="661.0" r="2.55" fill="#E9E9E9"/>
<circle cx="1263.1" cy="661.0" r="2.55" fill="#E9E9E9"/>
<circle cx="1260.0" cy="657.9" r="2.55" fill="#E9E9E9"/>
<circle cx="1260.0" cy="664.1" r="2.55" fill="#E9E9E9"/>
<circle cx="1256.9" cy="648.0" r="2.55" fill="#E9E9E9"/>
<circle cx="1263.1" cy="648.0" r="2.55" fill="#E9E9E9"/>
<circle cx="1260.0" cy="644.9" r="2.55" fill="#E9E9E9"/>
<circle cx="1260.0" cy="651.1" r="2.55" fill="#E9E9E9"/>
<circle cx="1250.4" cy="732.5" r="2.55" fill="#E9E9E9"/>
<circle cx="1256.6" cy="732.5" r="2.55" fill="#E9E9E9"/>
<circle cx="1253.5" cy="729.4" r="2.55" fill="#E9E9E9"/>
<circle cx="1253.5" cy="735.6" r="2.55" fill="#E9E9E9"/>
<circle cx="1250.4" cy="719.5" r="2.55" fill="#E9E9E9"/>
<circle cx="1256.6" cy="719.5" r="2.55" fill="#E9E9E9"/>
<circle cx="1253.5" cy="716.4" r="2.55" fill="#E9E9E9"/>
<circle cx="1253.5" cy="722.6" r="2.55" fill="#E9E9E9"/>
<circle cx="1250.4" cy="706.5" r="2.55" fill="#E9E9E9"/>
<circle cx="1256.6" cy="706.5" r="2.55" fill="#E9E9E9"/>
<circle cx="1253.5" cy="703.4" r="2.55" fill="#E9E9E9"/>
<circle cx="1253.5" cy="709.6" r="2.55" fill="#E9E9E9"/>
<circle cx="1250.4" cy="693.5" r="2.55" fill="#E9E9E9"/>
<circle cx="1256.6" cy="693.5" r="2.55" fill="#E9E9E9"/>
<circle cx="1253.5" cy="690.4" r="2.55" fill="#E9E9E9"/>
<circle cx="1253.5" cy="696.6" r="2.55" fill="#E9E9E9"/>
<circle cx="1250.4" cy="680.5" r="2.55" fill="#E9E9E9"/>
<circle cx="1256.6" cy="680.5" r="2.55" fill="#E9E9E9"/>
<circle cx="1253.5" cy="677.4" r="2.55" fill="#E9E9E9"/>
<circle cx="1253.5" cy="683.6" r="2.55" fill="#E9E9E9"/>
<circle cx="1250.4" cy="667.5" r="2.55" fill="#E9E9E9"/>
<circle cx="1256.6" cy="667.5" r="2.55" fill="#E9E9E9"/>
<circle cx="1253.5" cy="664.4" r="2.55" fill="#E9E9E9"/>
<circle cx="1253.5" cy="670.6" r="2.55" fill="#E9E9E9"/>
<circle cx="1250.4" cy="654.5" r="2.55" fill="#E9E9E9"/>
<circle cx="1256.6" cy="654.5" r="2.55" fill="#E9E9E9"/>
<circle cx="1253.5" cy="651.4" r="2.55" fill="#E9E9E9"/>
<circle cx="1253.5" cy="657.6" r="2.55" fill="#E9E9E9"/>
<circle cx="1243.9" cy="739.0" r="2.55" fill="#E9E9E9"/>
<circle cx="1250.1" cy="739.0" r="2.55" fill="#E9E9E9"/>
<circle cx="1247.0" cy="735.9" r="2.55" fill="#E9E9E9"/>
<circle cx="1247.0" cy="742.1" r="2.55" fill="#E9E9E9"/>
<circle cx="1243.9" cy="726.0" r="2.55" fill="#E9E9E9"/>
<circle cx="1250.1" cy="726.0" r="2.55" fill="#E9E9E9"/>
<circle cx="1247.0" cy="722.9" r="2.55" fill="#E9E9E9"/>
<circle cx="1247.0" cy="729.1" r="2.55" fill="#E9E9E9"/>
<circle cx="1243.9" cy="713.0" r="2.55" fill="#E9E9E9"/>
<circle cx="1250.1" cy="713.0" r="2.55" fill="#E9E9E9"/>
<circle cx="1247.0" cy="709.9" r="2.55" fill="#E9E9E9"/>
<circle cx="1247.0" cy="716.1" r="2.55" fill="#E9E9E9"/>
<circle cx="1243.9" cy="700.0" r="2.55" fill="#E9E9E9"/>
<circle cx="1250.1" cy="700.0" r="2.55" fill="#E9E9E9"/>
<circle cx="1247.0" cy="696.9" r="2.55" fill="#E9E9E9"/>
<circle cx="1247.0" cy="703.1" r="2.55" fill="#E9E9E9"/>
<circle cx="1243.9" cy="687.0" r="2.55" fill="#E9E9E9"/>
<circle cx="1250.1" cy="687.0" r="2.55" fill="#E9E9E9"/>
<circle cx="1247.0" cy="683.9" r="2.55" fill="#E9E9E9"/>
<circle cx="1247.0" cy="690.1" r="2.55" fill="#E9E9E9"/>
<circle cx="1243.9" cy="674.0" r="2.55" fill="#E9E9E9"/>
<circle cx="1250.1" cy="674.0" r="2.55" fill="#E9E9E9"/>
<circle cx="1247.0" cy="670.9" r="2.55" fill="#E9E9E9"/>
<circle cx="1247.0" cy="677.1" r="2.55" fill="#E9E9E9"/>
<circle cx="1243.9" cy="661.0" r="2.55" fill="#E9E9E9"/>
<circle cx="1250.1" cy="661.0" r="2.55" fill="#E9E9E9"/>
<circle cx="1247.0" cy="657.9" r="2.55" fill="#E9E9E9"/>
<circle cx="1247.0" cy="664.1" r="2.55" fill="#E9E9E9"/>
<circle cx="1237.4" cy="732.5" r="2.55" fill="#E9E9E9"/>
<circle cx="1243.6" cy="732.5" r="2.55" fill="#E9E9E9"/>
<circle cx="1240.5" cy="729.4" r="2.55" fill="#E9E9E9"/>
<circle cx="1240.5" cy="735.6" r="2.55" fill="#E9E9E9"/>
<circle cx="1237.4" cy="719.5" r="2.55" fill="#E9E9E9"/>
<circle cx="1243.6" cy="719.5" r="2.55" fill="#E9E9E9"/>
<circle cx="1240.5" cy="716.4" r="2.55" fill="#E9E9E9"/>
<circle cx="1240.5" cy="722.6" r="2.55" fill="#E9E9E9"/>
<circle cx="1237.4" cy="706.5" r="2.55" fill="#E9E9E9"/>
<circle cx="1243.6" cy="706.5" r="2.55" fill="#E9E9E9"/>
<circle cx="1240.5" cy="703.4" r="2.55" fill="#E9E9E9"/>
<circle cx="1240.5" cy="709.6" r="2.55" fill="#E9E9E9"/>
<circle cx="1237.4" cy="693.5" r="2.55" fill="#E9E9E9"/>
<circle cx="1243.6" cy="693.5" r="2.55" fill="#E9E9E9"/>
<circle cx="1240.5" cy="690.4" r="2.55" fill="#E9E9E9"/>
<circle cx="1240.5" cy="696.6" r="2.55" fill="#E9E9E9"/>
<circle cx="1237.4" cy="680.5" r="2.55" fill="#E9E9E9"/>
<circle cx="1243.6" cy="680.5" r="2.55" fill="#E9E9E9"/>
<circle cx="1240.5" cy="677.4" r="2.55" fill="#E9E9E9"/>
<circle cx="1240.5" cy="683.6" r="2.55" fill="#E9E9E9"/>
<circle cx="1237.4" cy="667.5" r="2.55" fill="#E9E9E9"/>
<circle cx="1243.6" cy="667.5" r="2.55" fill="#E9E9E9"/>
<circle cx="1240.5" cy="664.4" r="2.55" fill="#E9E9E9"/>
<circle cx="1240.5" cy="670.6" r="2.55" fill="#E9E9E9"/>
<circle cx="1230.9" cy="739.0" r="2.55" fill="#E9E9E9"/>
<circle cx="1237.1" cy="739.0" r="2.55" fill="#E9E9E9"/>
<circle cx="1234.0" cy="735.9" r="2.55" fill="#E9E9E9"/>
<circle cx="1234.0" cy="742.1" r="2.55" fill="#E9E9E9"/>
<circle cx="1230.9" cy="726.0" r="2.55" fill="#E9E9E9"/>
<circle cx="1237.1" cy="726.0" r="2.55" fill="#E9E9E9"/>
<circle cx="1234.0" cy="722.9" r="2.55" fill="#E9E9E9"/>
<circle cx="1234.0" cy="729.1" r="2.55" fill="#E9E9E9"/>
<circle cx="1230.9" cy="713.0" r="2.55" fill="#E9E9E9"/>
<circle cx="1237.1" cy="713.0" r="2.55" fill="#E9E9E9"/>
<circle cx="1234.0" cy="709.9" r="2.55" fill="#E9E9E9"/>
<circle cx="1234.0" cy="716.1" r="2.55" fill="#E9E9E9"/>
<circle cx="1230.9" cy="700.0" r="2.55" fill="#E9E9E9"/>
<circle cx="1237.1" cy="700.0" r="2.55" fill="#E9E9E9"/>
<circle cx="1234.0" cy="696.9" r="2.55" fill="#E9E9E9"/>
<circle cx="1234.0" cy="703.1" r="2.55" fill="#E9E9E9"/>
<circle cx="1230.9" cy="687.0" r="2.55" fill="#E9E9E9"/>
<circle cx="1237.1" cy="687.0" r="2.55" fill="#E9E9E9"/>
<circle cx="1234.0" cy="683.9" r="2.55" fill="#E9E9E9"/>
<circle cx="1234.0" cy="690.1" r="2.55" fill="#E9E9E9"/>
<circle cx="1230.9" cy="674.0" r="2.55" fill="#E9E9E9"/>
<circle cx="1237.1" cy="674.0" r="2.55" fill="#E9E9E9"/>
<circle cx="1234.0" cy="670.9" r="2.55" fill="#E9E9E9"/>
<circle cx="1234.0" cy="677.1" r="2.55" fill="#E9E9E9"/>
<circle cx="1224.4" cy="732.5" r="2.55" fill="#E9E9E9"/>
<circle cx="1230.6" cy="732.5" r="2.55" fill="#E9E9E9"/>
<circle cx="1227.5" cy="729.4" r="2.55" fill="#E9E9E9"/>
<circle cx="1227.5" cy="735.6" r="2.55" fill="#E9E9E9"/>
<circle cx="1224.4" cy="719.5" r="2.55" fill="#E9E9E9"/>
<circle cx="1230.6" cy="719.5" r="2.55" fill="#E9E9E9"/>
<circle cx="1227.5" cy="716.4" r="2.55" fill="#E9E9E9"/>
<circle cx="1227.5" cy="722.6" r="2.55" fill="#E9E9E9"/>
<circle cx="1224.4" cy="706.5" r="2.55" fill="#E9E9E9"/>
<circle cx="1230.6" cy="706.5" r="2.55" fill="#E9E9E9"/>
<circle cx="1227.5" cy="703.4" r="2.55" fill="#E9E9E9"/>
<circle cx="1227.5" cy="709.6" r="2.55" fill="#E9E9E9"/>
<circle cx="1224.4" cy="693.5" r="2.55" fill="#E9E9E9"/>
<circle cx="1230.6" cy="693.5" r="2.55" fill="#E9E9E9"/>
<circle cx="1227.5" cy="690.4" r="2.55" fill="#E9E9E9"/>
<circle cx="1227.5" cy="696.6" r="2.55" fill="#E9E9E9"/>
<circle cx="1224.4" cy="680.5" r="2.55" fill="#E9E9E9"/>
<circle cx="1230.6" cy="680.5" r="2.55" fill="#E9E9E9"/>
<circle cx="1227.5" cy="677.4" r="2.55" fill="#E9E9E9"/>
<circle cx="1227.5" cy="683.6" r="2.55" fill="#E9E9E9"/>
<circle cx="1217.9" cy="739.0" r="2.55" fill="#E9E9E9"/>
<circle cx="1224.1" cy="739.0" r="2.55" fill="#E9E9E9"/>
<circle cx="1221.0" cy="735.9" r="2.55" fill="#E9E9E9"/>
<circle cx="1221.0" cy="742.1" r="2.55" fill="#E9E9E9"/>
<circle cx="1217.9" cy="726.0" r="2.55" fill="#E9E9E9"/>
<circle cx="1224.1" cy="726.0" r="2.55" fill="#E9E9E9"/>
<circle cx="1221.0" cy="722.9" r="2.55" fill="#E9E9E9"/>
<circle cx="1221.0" cy="729.1" r="2.55" fill="#E9E9E9"/>
<circle cx="1217.9" cy="713.0" r="2.55" fill="#E9E9E9"/>
<circle cx="1224.1" cy="713.0" r="2.55" fill="#E9E9E9"/>
<circle cx="1221.0" cy="709.9" r="2.55" fill="#E9E9E9"/>
<circle cx="1221.0" cy="716.1" r="2.55" fill="#E9E9E9"/>
<circle cx="1217.9" cy="700.0" r="2.55" fill="#E9E9E9"/>
<circle cx="1224.1" cy="700.0" r="2.55" fill="#E9E9E9"/>
<circle cx="1221.0" cy="696.9" r="2.55" fill="#E9E9E9"/>
<circle cx="1221.0" cy="703.1" r="2.55" fill="#E9E9E9"/>
<circle cx="1217.9" cy="687.0" r="2.55" fill="#E9E9E9"/>
<circle cx="1224.1" cy="687.0" r="2.55" fill="#E9E9E9"/>
<circle cx="1221.0" cy="683.9" r="2.55" fill="#E9E9E9"/>
<circle cx="1221.0" cy="690.1" r="2.55" fill="#E9E9E9"/>
<circle cx="1211.4" cy="732.5" r="2.55" fill="#E9E9E9"/>
<circle cx="1217.6" cy="732.5" r="2.55" fill="#E9E9E9"/>
<circle cx="1214.5" cy="729.4" r="2.55" fill="#E9E9E9"/>
<circle cx="1214.5" cy="735.6" r="2.55" fill="#E9E9E9"/>
<circle cx="1211.4" cy="719.5" r="2.55" fill="#E9E9E9"/>
<circle cx="1217.6" cy="719.5" r="2.55" fill="#E9E9E9"/>
<circle cx="1214.5" cy="716.4" r="2.55" fill="#E9E9E9"/>
<circle cx="1214.5" cy="722.6" r="2.55" fill="#E9E9E9"/>
<circle cx="1211.4" cy="706.5" r="2.55" fill="#E9E9E9"/>
<circle cx="1217.6" cy="706.5" r="2.55" fill="#E9E9E9"/>
<circle cx="1214.5" cy="703.4" r="2.55" fill="#E9E9E9"/>
<circle cx="1214.5" cy="709.6" r="2.55" fill="#E9E9E9"/>
<circle cx="1211.4" cy="693.5" r="2.55" fill="#E9E9E9"/>
<circle cx="1217.6" cy="693.5" r="2.55" fill="#E9E9E9"/>
<circle cx="1214.5" cy="690.4" r="2.55" fill="#E9E9E9"/>
<circle cx="1214.5" cy="696.6" r="2.55" fill="#E9E9E9"/>
<circle cx="1204.9" cy="739.0" r="2.55" fill="#E9E9E9"/>
<circle cx="1211.1" cy="739.0" r="2.55" fill="#E9E9E9"/>
<circle cx="1208.0" cy="735.9" r="2.55" fill="#E9E9E9"/>
<circle cx="1208.0" cy="742.1" r="2.55" fill="#E9E9E9"/>
<circle cx="1204.9" cy="726.0" r="2.55" fill="#E9E9E9"/>
<circle cx="1211.1" cy="726.0" r="2.55" fill="#E9E9E9"/>
<circle cx="1208.0" cy="722.9" r="2.55" fill="#E9E9E9"/>
<circle cx="1208.0" cy="729.1" r="2.55" fill="#E9E9E9"/>
<circle cx="1204.9" cy="713.0" r="2.55" fill="#E9E9E9"/>
<circle cx="1211.1" cy="713.0" r="2.55" fill="#E9E9E9"/>
<circle cx="1208.0" cy="709.9" r="2.55" fill="#E9E9E9"/>
<circle cx="1208.0" cy="716.1" r="2.55" fill="#E9E9E9"/>
<circle cx="1204.9" cy="700.0" r="2.55" fill="#E9E9E9"/>
<circle cx="1211.1" cy="700.0" r="2.55" fill="#E9E9E9"/>
<circle cx="1208.0" cy="696.9" r="2.55" fill="#E9E9E9"/>
<circle cx="1208.0" cy="703.1" r="2.55" fill="#E9E9E9"/>
<circle cx="1198.4" cy="732.5" r="2.55" fill="#E9E9E9"/>
<circle cx="1204.6" cy="732.5" r="2.55" fill="#E9E9E9"/>
<circle cx="1201.5" cy="729.4" r="2.55" fill="#E9E9E9"/>
<circle cx="1201.5" cy="735.6" r="2.55" fill="#E9E9E9"/>
<circle cx="1198.4" cy="719.5" r="2.55" fill="#E9E9E9"/>
<circle cx="1204.6" cy="719.5" r="2.55" fill="#E9E9E9"/>
<circle cx="1201.5" cy="716.4" r="2.55" fill="#E9E9E9"/>
<circle cx="1201.5" cy="722.6" r="2.55" fill="#E9E9E9"/>
<circle cx="1198.4" cy="706.5" r="2.55" fill="#E9E9E9"/>
<circle cx="1204.6" cy="706.5" r="2.55" fill="#E9E9E9"/>
<circle cx="1201.5" cy="703.4" r="2.55" fill="#E9E9E9"/>
<circle cx="1201.5" cy="709.6" r="2.55" fill="#E9E9E9"/>
<circle cx="1191.9" cy="739.0" r="2.55" fill="#E9E9E9"/>
<circle cx="1198.1" cy="739.0" r="2.55" fill="#E9E9E9"/>
<circle cx="1195.0" cy="735.9" r="2.55" fill="#E9E9E9"/>
<circle cx="1195.0" cy="742.1" r="2.55" fill="#E9E9E9"/>
<circle cx="1191.9" cy="726.0" r="2.55" fill="#E9E9E9"/>
<circle cx="1198.1" cy="726.0" r="2.55" fill="#E9E9E9"/>
<circle cx="1195.0" cy="722.9" r="2.55" fill="#E9E9E9"/>
<circle cx="1195.0" cy="729.1" r="2.55" fill="#E9E9E9"/>
<circle cx="1191.9" cy="713.0" r="2.55" fill="#E9E9E9"/>
<circle cx="1198.1" cy="713.0" r="2.55" fill="#E9E9E9"/>
<circle cx="1195.0" cy="709.9" r="2.55" fill="#E9E9E9"/>
<circle cx="1195.0" cy="716.1" r="2.55" fill="#E9E9E9"/>
<circle cx="1185.4" cy="732.5" r="2.55" fill="#E9E9E9"/>
<circle cx="1191.6" cy="732.5" r="2.55" fill="#E9E9E9"/>
<circle cx="1188.5" cy="729.4" r="2.55" fill="#E9E9E9"/>
<circle cx="1188.5" cy="735.6" r="2.55" fill="#E9E9E9"/>
<circle cx="1185.4" cy="719.5" r="2.55" fill="#E9E9E9"/>
<circle cx="1191.6" cy="719.5" r="2.55" fill="#E9E9E9"/>
<circle cx="1188.5" cy="716.4" r="2.55" fill="#E9E9E9"/>
<circle cx="1188.5" cy="722.6" r="2.55" fill="#E9E9E9"/>
<circle cx="1178.9" cy="739.0" r="2.55" fill="#E9E9E9"/>
<circle cx="1185.1" cy="739.0" r="2.55" fill="#E9E9E9"/>
<circle cx="1182.0" cy="735.9" r="2.55" fill="#E9E9E9"/>
<circle cx="1182.0" cy="742.1" r="2.55" fill="#E9E9E9"/>
<circle cx="1178.9" cy="726.0" r="2.55" fill="#E9E9E9"/>
<circle cx="1185.1" cy="726.0" r="2.55" fill="#E9E9E9"/>
<circle cx="1182.0" cy="722.9" r="2.55" fill="#E9E9E9"/>
<circle cx="1182.0" cy="729.1" r="2.55" fill="#E9E9E9"/>
<circle cx="1172.4" cy="732.5" r="2.55" fill="#E9E9E9"/>
<circle cx="1178.6" cy="732.5" r="2.55" fill="#E9E9E9"/>
<circle cx="1175.5" cy="729.4" r="2.55" fill="#E9E9E9"/>
<circle cx="1175.5" cy="735.6" r="2.55" fill="#E9E9E9"/>
<circle cx="1165.9" cy="739.0" r="2.55" fill="#E9E9E9"/>
<circle cx="1172.1" cy="739.0" r="2.55" fill="#E9E9E9"/>
<circle cx="1169.0" cy="735.9" r="2.55" fill="#E9E9E9"/>
<circle cx="1169.0" cy="742.1" r="2.55" fill="#E9E9E9"/>
<rect x="1296.8" y="736.8" width="4.4" height="4.4" fill="#fff"/>
<rect x="1296.8" y="710.8" width="4.4" height="4.4" fill="#fff"/>
<rect x="1296.8" y="684.8" width="4.4" height="4.4" fill="#fff"/>
<rect x="1296.8" y="658.8" width="4.4" height="4.4" fill="#fff"/>
<rect x="1296.8" y="632.8" width="4.4" height="4.4" fill="#fff"/>
<rect x="1296.8" y="606.8" width="4.4" height="4.4" fill="#fff"/>
<rect x="1283.8" y="723.8" width="4.4" height="4.4" fill="#fff"/>
<rect x="1283.8" y="697.8" width="4.4" height="4.4" fill="#fff"/>
<rect x="1283.8" y="671.8" width="4.4" height="4.4" fill="#fff"/>
<rect x="1283.8" y="645.8" width="4.4" height="4.4" fill="#fff"/>
<rect x="1283.8" y="619.8" width="4.4" height="4.4" fill="#fff"/>
<rect x="1270.8" y="736.8" width="4.4" height="4.4" fill="#fff"/>
<rect x="1270.8" y="710.8" width="4.4" height="4.4" fill="#fff"/>
<rect x="1270.8" y="684.8" width="4.4" height="4.4" fill="#fff"/>
<rect x="1270.8" y="658.8" width="4.4" height="4.4" fill="#fff"/>
<rect x="1270.8" y="632.8" width="4.4" height="4.4" fill="#fff"/>
<rect x="1257.8" y="723.8" width="4.4" height="4.4" fill="#fff"/>
<rect x="1257.8" y="697.8" width="4.4" height="4.4" fill="#fff"/>
<rect x="1257.8" y="671.8" width="4.4" height="4.4" fill="#fff"/>
<rect x="1257.8" y="645.8" width="4.4" height="4.4" fill="#fff"/>
<rect x="1244.8" y="736.8" width="4.4" height="4.4" fill="#fff"/>
<rect x="1244.8" y="710.8" width="4.4" height="4.4" fill="#fff"/>
<rect x="1244.8" y="684.8" width="4.4" height="4.4" fill="#fff"/>
<rect x="1244.8" y="658.8" width="4.4" height="4.4" fill="#fff"/>
<rect x="1231.8" y="723.8" width="4.4" height="4.4" fill="#fff"/>
<rect x="1231.8" y="697.8" width="4.4" height="4.4" fill="#fff"/>
<rect x="1231.8" y="671.8" width="4.4" height="4.4" fill="#fff"/>
<rect x="1218.8" y="736.8" width="4.4" height="4.4" fill="#fff"/>
<rect x="1218.8" y="710.8" width="4.4" height="4.4" fill="#fff"/>
<rect x="1218.8" y="684.8" width="4.4" height="4.4" fill="#fff"/>
<rect x="1205.8" y="723.8" width="4.4" height="4.4" fill="#fff"/>
<rect x="1205.8" y="697.8" width="4.4" height="4.4" fill="#fff"/>
<rect x="1192.8" y="736.8" width="4.4" height="4.4" fill="#fff"/>
<rect x="1192.8" y="710.8" width="4.4" height="4.4" fill="#fff"/>
<rect x="1179.8" y="723.8" width="4.4" height="4.4" fill="#fff"/>
<rect x="1166.8" y="736.8" width="4.4" height="4.4" fill="#fff"/>
</svg>
<svg class="a" style="left:530px;top:510px" width="740" height="210" viewBox="530 510 740 210">
<rect x="536.4" y="516.3" width="721.8" height="200.5" rx="33" ry="33" fill="none" stroke="#2B7B7C" stroke-width="3" stroke-dasharray="13 8" stroke-dashoffset="-3.1"/>
</svg>
<div class="pill" style="left:513.3px;top:495px;width:153.5px;height:28.3px;background:#035350;"></div>
<div class="t" style="left:554.20px;top:500.08px;font-size:20.7px;color:#fff;font-weight:700;transform:scaleX(0.9724);transform-origin:0 0;">Analisa</div>
<div class="t" style="left:556.10px;top:523.86px;font-size:16px;color:#111;">•</div>
<div class="t" style="left:586.70px;top:523.86px;font-size:16px;color:#111;">Dalam 2 tahun terakhir, trend suspek kolera sempat tinggi pada awal-pertengahan tahun</div>
<div class="t" style="left:586.70px;top:542.93px;font-size:16px;color:#111;">2023. pada Tahun 2025 sd M30 kasus suspek kolera menampakan kasus yang konsisten</div>
<div class="t" style="left:586.70px;top:562.00px;font-size:16px;color:#111;">terlaporkan walaupun tidak sebanyak di Tahun 2023</div>
<div class="t" style="left:556.10px;top:581.07px;font-size:16px;color:#111;">•</div>
<div class="t" style="left:586.70px;top:581.07px;font-size:16px;color:#111;transform:scaleX(0.9944);transform-origin:0 0;">Pelaporan kasus suspek kolera yang konsisten juga dipengaruhi oleh pemahaman DO bagi</div>
<div class="t" style="left:586.70px;top:600.14px;font-size:16px;color:#111;transform:scaleX(0.9960);transform-origin:0 0;">petugas pelapor</div>
<div class="t" style="left:556.10px;top:619.21px;font-size:16px;color:#111;">•</div>
<div class="t" style="left:586.70px;top:619.21px;font-size:16px;color:#111;transform:scaleX(0.9951);transform-origin:0 0;">Tingginya suspek kolera berkaitan dengan kewaspadaan komunal terhadap situasi global</div>
<div class="t" style="left:586.70px;top:638.28px;font-size:16px;color:#111;transform:scaleX(0.9930);transform-origin:0 0;">dimana kematian sebab kolera tahun 2023 meningkat 71% dibandingkan dengan tahun</div>
<div class="t" style="left:586.70px;top:657.35px;font-size:16px;color:#111;transform:scaleX(0.9960);transform-origin:0 0;">2022 (WHO).</div>
<div class="t" style="left:556.10px;top:676.42px;font-size:16px;color:#111;">•</div>
<div class="t" style="left:586.70px;top:676.42px;font-size:16px;color:#111;">Mayoritas kasus kolera berasal dari regional AFRO (afrika) dan EMRO (Eastern</div>
<div class="t" style="left:586.70px;top:695.49px;font-size:16px;color:#111;transform:scaleX(0.9960);transform-origin:0 0;">Mediterranean).</div>
<div class="a" style="left:1207.4px;top:648px;width:44.8px;height:44.8px;border-radius:50%;background:#1FAE9B;"></div>
<div class="t" style="left:1218.42px;top:659.20px;font-size:22.8px;color:#fff;font-weight:700;transform:scaleX(1.0804);transform-origin:50% 0;">57</div>
</body></html>
